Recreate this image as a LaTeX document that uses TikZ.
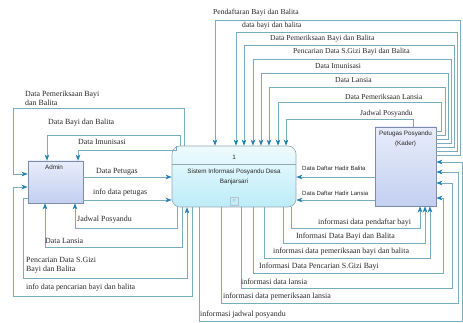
\documentclass[tikz,border=0pt]{standalone}
\usepackage{fontspec}
\setmainfont{Liberation Serif}
\newfontfamily\boxfont{Liberation Sans}
\usetikzlibrary{arrows.meta}
\definecolor{linec}{RGB}{120,172,190}
\definecolor{arrowc}{RGB}{30,130,178}
\definecolor{entborder}{RGB}{125,140,170}
\definecolor{enttop}{RGB}{232,237,251}
\definecolor{entbot}{RGB}{195,207,240}
\definecolor{procborder}{RGB}{150,168,178}
\definecolor{proctop}{RGB}{238,251,254}
\definecolor{procbot}{RGB}{188,236,248}
\definecolor{txtc}{RGB}{40,40,40}
\begin{document}
\begin{tikzpicture}[x=1pt,y=-1pt,
  flow/.style={draw=linec, line width=0.8pt},
  arr/.style={flow, -{Stealth[length=6pt,width=4.5pt,inset=1.5pt,color=arrowc]}},
  lbl/.style={font=\fontsize{7.9}{8.6}\selectfont, inner sep=0pt, anchor=west, text=txtc, align=left},
  tlbl/.style={lbl, font=\fontsize{7.6}{8.6}\selectfont},
  slbl/.style={font=\boxfont\fontsize{6}{7}\selectfont, inner sep=0pt, anchor=west, text=txtc},
  btxt/.style={font=\boxfont\fontsize{6.3}{10}\selectfont, inner sep=0pt, text=txtc, align=center},
  entity/.style={draw=entborder, line width=0.6pt, top color=enttop, bottom color=entbot, inner sep=0pt},
  proc/.style={draw=procborder, line width=0.6pt, top color=proctop, bottom color=procbot, inner sep=0pt, rounded corners=8pt}
]
\useasboundingbox (0,0) rectangle (463,323);

% boxes
\node[entity, minimum width=55pt, minimum height=42pt] (adm) at (55.5,182) {};
\node[btxt] (admt) at (54,167) {Admin};
\node[entity, minimum width=61pt, minimum height=79pt] (kad) at (405.5,166.5) {};
\node[btxt] (kadt) at (405.5,138.5) {Petugas Posyandu\\(Kader)};
\node[proc, minimum width=124pt, minimum height=61pt] (proc) at (234,176.5) {};
\draw[draw=procborder, line width=0.5pt] (proc.west |- 0,164) -- (proc.east |- 0,164);
\node[btxt] (pnum) at (234,157) {1};
\node[btxt] (ptxt) at (234,177) {Sistem Informasi Posyandu Desa\\Banjarsari};
\node[draw=procborder!70, line width=0.4pt, minimum size=8pt, inner sep=0pt, font=\boxfont\fontsize{6}{6}\selectfont, text=procborder] (pplus) at (234,201) {+};

% Admin <-> Process (top)
\draw[arr] (proc.north -| 184,0) |- (13,108) |- (adm.west |- 0,174);
\draw[arr] (proc.north -| 180,0) |- (47,135) -- (adm.north -| 47,0);
\draw[arr] (proc.north -| 176,0) |- (78,150) -- (adm.north -| 78,0);
% Admin -> Process (middle)
\draw[arr] (adm.east |- 0,177) -- (proc.west |- 0,177);
\draw[arr] (adm.east |- 0,200) -- (proc.west |- 0,200);
% Admin <-> Process (bottom)
\draw[arr] (proc.south -| 177,0) |- (75,228) -- (adm.south -| 75,0);
\draw[arr] (proc.south -| 182,0) |- (45,247) -- (adm.south -| 45,0);
\draw[arr] (adm.west |- 0,198) -| (23,278) -| (proc.south -| 187,0);
\draw[arr] (proc.south -| 192,0) |- (13,296) |- (adm.west |- 0,187);

\node[lbl] (l1) at (25,98) {Data Pemeriksaan Bayi\\dan Balita};
\node[lbl] (l2) at (48,123) {Data Bayi dan Balita};
\node[lbl] (l3) at (78,142) {Data Imunisasi};
\node[lbl] (l4) at (96,172) {Data Petugas};
\node[lbl] (l5) at (93,193) {info data petugas};
\node[lbl] (l6) at (77,220) {Jadwal Posyandu};
\node[lbl] (l7) at (45,241) {Data Lansia};
\node[lbl] (l8) at (26,265) {Pencarian Data S.Gizi\\Bayi dan Balita};
\node[lbl] (l9) at (26,288) {info data pencarian bayi dan balita};

% Kader -> Process (top)
\draw[arr] (kad.east |- 0,155) -| (460,20) -| (proc.north -| 215,0);
\draw[arr] (kad.east |- 0,151) -| (457,32) -| (proc.north -| 236,0);
\draw[arr] (kad.east |- 0,147) -| (454,45) -| (proc.north -| 244,0);
\draw[arr] (kad.east |- 0,143) -| (451,59) -| (proc.north -| 253,0);
\draw[arr] (kad.east |- 0,139) -| (448,73) -| (proc.north -| 261,0);
\draw[arr] (kad.east |- 0,135) -| (445,87) -| (proc.north -| 269,0);
\draw[arr] (kad.east |- 0,131) -| (441,102) -| (proc.north -| 278,0);
\draw[arr] (kad.north -| 413,0) |- (286,119) -- (proc.north -| 286,0);

\node[tlbl] (t1) at (213,13) {Pendaftaran Bayi dan Balita};
\node[tlbl] (t2) at (242,26) {data bayi dan balita};
\node[tlbl] (t3) at (270,39) {Data Pemeriksaan Bayi dan Balita};
\node[tlbl] (t4) at (293,52) {Pencarian Data S.Gizi Bayi dan Balita};
\node[tlbl] (t5) at (315,66) {Data Imunisasi};
\node[tlbl] (t6) at (335,80) {Data Lansia};
\node[tlbl] (t7) at (345,97) {Data Pemeriksaan Lansia};
\node[tlbl] (t8) at (360,114) {Jadwal Posyandu};

% Kader -> Process (middle)
\draw[arr] (kad.west |- 0,177) -- (proc.east |- 0,177);
\draw[arr] (kad.west |- 0,200) -- (proc.east |- 0,200);
\node[slbl] (m1) at (302,168) {Data Daftar Hadir Balita};
\node[slbl] (m2) at (302,193) {Data Daftar Hadir Lansia};

% Process -> Kader (bottom)
\draw[arr] (proc.south -| 291,0) |- (420,228) -- (kad.south -| 420,0);
\draw[arr] (proc.south -| 283,0) |- (425,243) -- (kad.south -| 425,0);
\draw[arr] (proc.south -| 264,0) |- (430,258) -- (kad.south -| 430,0);
\draw[arr] (proc.south -| 253,0) |- (443,273) |- (kad.east |- 0,198);
\draw[arr] (proc.south -| 241,0) |- (452,288) |- (kad.east |- 0,183);
\draw[arr] (proc.south -| 221,0) |- (458,303) |- (kad.east |- 0,172);
\draw[arr] (proc.south -| 199,0) |- (462,321) |- (kad.east |- 0,162);

\node[lbl] (b1) at (318,223) {informasi data pendaftar bayi};
\node[lbl] (b2) at (296,237) {Informasi Data Bayi dan Balita};
\node[lbl] (b3) at (273,252) {informasi data pemeriksaan bayi dan balita};
\node[lbl] (b4) at (259,267) {Informasi Data Pencarian S.Gizi Bayi};
\node[lbl] (b5) at (241,282) {informasi data lansia};
\node[lbl] (b6) at (223,297) {informasi data pemeriksaan lansia};
\node[lbl] (b7) at (200,315) {informasi jadwal posyandu};
\end{tikzpicture}
\end{document}
